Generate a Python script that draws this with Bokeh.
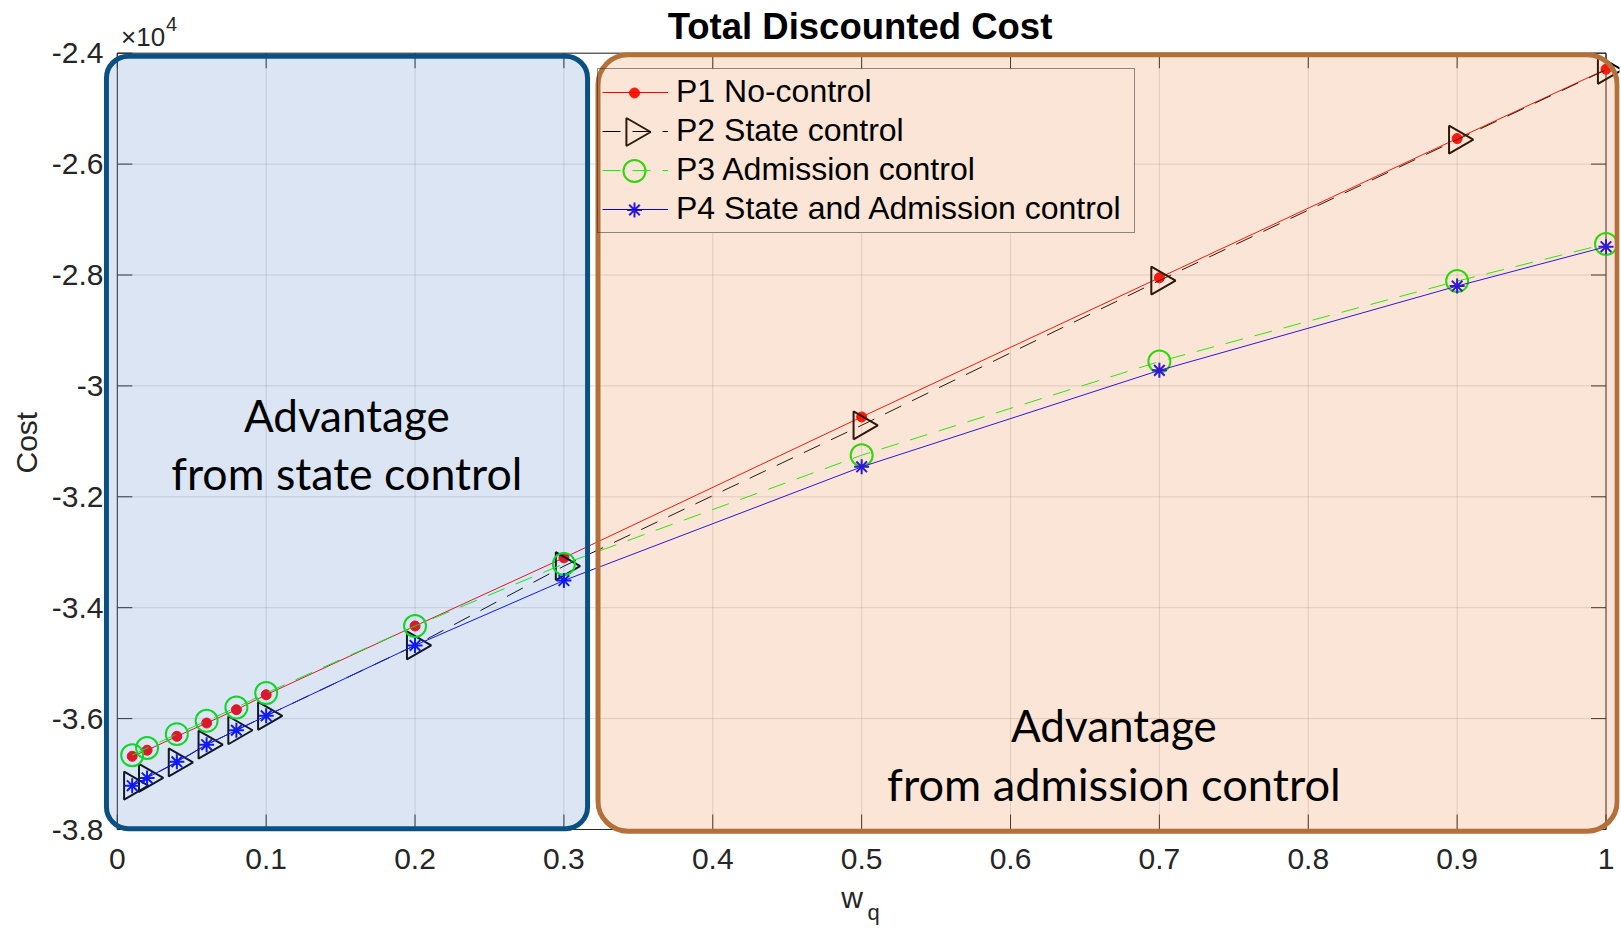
import numpy as np
from bokeh.plotting import figure
from bokeh.models import (Range1d, LinearAxis, FixedTicker, CustomJSTickFormatter,
                          BoxAnnotation, Label, Legend, LegendItem, ColumnDataSource, Title)
from bokeh.embed import file_html
from bokeh.resources import INLINE

# ---------------- data ----------------
wq = [0.01, 0.02, 0.04, 0.06, 0.08, 0.1, 0.2, 0.3, 0.5, 0.7, 0.9, 1.0]
p1_no_control = [-36680, -36570, -36320, -36080, -35840, -35570, -34330, -33100, -30560, -28050, -25540, -24290]
p2_state_control = [-37210, -37070, -36790, -36470, -36210, -35950, -34680, -33250, -30710, -28100, -25560, -24300]
p3_admission_control = [-36660, -36530, -36280, -36040, -35800, -35540, -34330, -33210, -31250, -29560, -28110, -27440]
p4_state_admission = [-37210, -37070, -36780, -36470, -36210, -35950, -34680, -33510, -31460, -29720, -28200, -27490]

series_labels = ["P1 No-control", "P2 State control", "P3 Admission control",
                 "P4 State and Admission control"]
x_ticks = [0.0, 0.1, 0.2, 0.3, 0.4, 0.5, 0.6, 0.7, 0.8, 0.9, 1.0]
y_ticks = [-38000, -36000, -34000, -32000, -30000, -28000, -26000, -24000]
x_limits = [0.0, 1.0]
y_limits = [-38000, -24000]
x_label_main, x_label_sub = "w", "q"

# highlighted regions (data coordinates)
state_box = dict(left=-0.0073, right=0.3159, top=-24054, bottom=-37985)
adm_box = dict(left=0.3229, right=1.0075, top=-24029, bottom=-38030)

# ---------------- geometry (pixels) ----------------
W, H = 1621, 928
X0_PX, X1_PX = 116.8, 1605.5          # where x=0 and x=1 sit
YT_PX, YB_PX = 52.7, 829.0            # where y=-24000 and y=-38000 sit
FL, FR, FT, FB = 103, W - 2, 0, 834   # plot frame edges
PX_X = (X1_PX - X0_PX) / (x_limits[1] - x_limits[0])
PX_Y = (YB_PX - YT_PX) / (y_limits[1] - y_limits[0])

def xd(px):
    return x_limits[0] + (px - X0_PX) / PX_X

def yd(py):
    return y_limits[1] - (py - YT_PX) / PX_Y

AX = "#262626"
FONT = "Liberation Sans"

p = figure(width=W, height=H, output_backend="svg", toolbar_location=None,
           x_range=Range1d(xd(FL), xd(FR)), y_range=Range1d(yd(FB), yd(FT)),
           min_border_left=FL, min_border_right=W - FR, min_border_top=FT,
           min_border_bottom=H - FB)
p.outline_line_color = None
p.background_fill_color = "white"
p.border_fill_color = "white"
p.xgrid.visible = False
p.ygrid.visible = False

xfmt = CustomJSTickFormatter(code="return (Math.round(tick*10)/10).toString();")
yfmt = CustomJSTickFormatter(code="return (Math.round(tick/1000)/10).toString();")

def label_axis(ax, fmt, ticks, standoff, size="30px"):
    ax.ticker = FixedTicker(ticks=ticks)
    ax.formatter = fmt
    ax.minor_tick_line_color = None
    ax.minor_tick_in = 0
    ax.minor_tick_out = 0
    ax.major_tick_line_color = None
    ax.major_tick_in = 0
    ax.major_tick_out = 0
    ax.axis_line_color = None
    ax.major_label_text_font = FONT
    ax.major_label_text_font_size = size
    ax.major_label_text_color = AX
    ax.major_label_standoff = standoff

xa = p.xaxis[0]
label_axis(xa, xfmt, x_ticks, 14)

# x label "w" with subscript "q", stacked under the tick labels
w_axis = LinearAxis()
label_axis(w_axis, CustomJSTickFormatter(code="return '%s';" % x_label_main),
           [xd(851.7)], 9, "30px")
p.add_layout(w_axis, "below")
q_axis = LinearAxis()
label_axis(q_axis, CustomJSTickFormatter(code="return '%s';" % x_label_sub),
           [xd(873)], -17, "22px")
p.add_layout(q_axis, "below")

ya = p.yaxis[0]
label_axis(ya, yfmt, y_ticks, 0)

p.add_layout(Title(text="Cost", text_font=FONT, text_font_size="30px",
                   text_font_style="normal", text_color=AX, align="left",
                   offset=FB - 473, standoff=12), "left")

# ---------------- grid, frame and ticks ----------------
TICK = 15
nx, ny = len(x_ticks), len(y_ticks)
p.segment(x0=x_ticks, x1=x_ticks, y0=[y_limits[0]] * nx, y1=[y_limits[1]] * nx,
          line_color=AX, line_alpha=0.15, line_width=1)
p.segment(x0=[x_limits[0]] * ny, x1=[x_limits[1]] * ny, y0=y_ticks, y1=y_ticks,
          line_color=AX, line_alpha=0.15, line_width=1)

# legend geometry (pixels) and opaque legend background under the sample markers
LEG_L, LEG_B, PAD, GH, SP, GW, STAND, LW = 597, 232.5, 4, 38, 1, 66, 8, 454
leg_top = LEG_B - 2 * PAD - 4 * GH - 3 * SP
leg_right = LEG_L + 2 * PAD + GW + STAND + LW
p.quad(left=[xd(LEG_L)], right=[xd(leg_right)], bottom=[yd(LEG_B)], top=[yd(leg_top)],
       fill_color="white", line_color=None)

tx = TICK / PX_X
ty = TICK / PX_Y
p.segment(x0=x_ticks, x1=x_ticks, y0=[y_limits[0]] * nx, y1=[y_limits[0] + ty] * nx,
          line_color=AX, line_width=1)
p.segment(x0=x_ticks, x1=x_ticks, y0=[y_limits[1]] * nx, y1=[y_limits[1] - ty] * nx,
          line_color=AX, line_width=1)
p.segment(x0=[x_limits[0]] * ny, x1=[x_limits[0] + tx] * ny, y0=y_ticks, y1=y_ticks,
          line_color=AX, line_width=1)
p.segment(x0=[x_limits[1]] * ny, x1=[x_limits[1] - tx] * ny, y0=y_ticks, y1=y_ticks,
          line_color=AX, line_width=1)
p.quad(left=[x_limits[0]], right=[x_limits[1]], bottom=[y_limits[0]], top=[y_limits[1]],
       fill_color=None, line_color=AX, line_width=1)

# ---------------- series ----------------
src = ColumnDataSource(dict(x=wq, p1=p1_no_control, p2=p2_state_control,
                            p3=p3_admission_control, p4=p4_state_admission))

l1 = p.line("x", "p1", source=src, line_color="#ff0000", line_width=1)
p.scatter("x", "p1", source=src, marker="circle", size=10,
          fill_color="#ff0000", line_color="#ff0000")
l2 = p.line("x", "p2", source=src, line_color="black", line_width=1, line_dash="18 12")
p.scatter("x", "p2", source=src, marker="triangle", size=28, angle=-np.pi / 2,
          fill_color=None, line_color="black", line_width=2)
l3 = p.line("x", "p3", source=src, line_color="#00ff00", line_width=1, line_dash="18 12")
p.scatter("x", "p3", source=src, marker="circle", size=22,
          fill_color=None, line_color="#00ee00", line_width=2)
l4 = p.line("x", "p4", source=src, line_color="#0000ff", line_width=1)
p.scatter("x", "p4", source=src, marker="asterisk", size=15,
          line_color="#0000ff", line_width=2)

# legend sample markers (at the legend glyph centres)
mx = xd(LEG_L + PAD + GW / 2)
my = [yd(leg_top + PAD + GH / 2 + i * (GH + SP)) for i in range(4)]
p.scatter([mx], [my[0]], marker="circle", size=10, fill_color="#ff0000",
          line_color="#ff0000")
p.scatter([mx], [my[1]], marker="triangle", size=28, angle=-np.pi / 2, fill_color=None,
          line_color="black", line_width=2)
p.scatter([mx], [my[2]], marker="circle", size=22, fill_color=None,
          line_color="#00ee00", line_width=2)
p.scatter([mx], [my[3]], marker="asterisk", size=15, line_color="#0000ff",
          line_width=2)

# ---------------- legend ----------------
legend = Legend(items=[LegendItem(label=series_labels[0], renderers=[l1]),
                       LegendItem(label=series_labels[1], renderers=[l2]),
                       LegendItem(label=series_labels[2], renderers=[l3]),
                       LegendItem(label=series_labels[3], renderers=[l4])],
                location=(LEG_L - FL, FB - LEG_B), orientation="vertical",
                glyph_width=GW, glyph_height=GH, label_height=GH, label_width=LW,
                spacing=SP, label_standoff=STAND, padding=PAD, margin=0,
                label_text_font=FONT, label_text_font_size="32px", label_text_color="black",
                border_line_color=AX, border_line_width=1,
                background_fill_alpha=0.0)
p.add_layout(legend, "center")

# ---------------- translucent regions ----------------
p.add_layout(BoxAnnotation(**state_box, fill_color="#4a7dc8", fill_alpha=0.2,
                           line_color="#0a5083", line_width=5, line_alpha=1.0,
                           border_radius=22, level="overlay"))
p.add_layout(BoxAnnotation(**adm_box, fill_color="#ED7D31", fill_alpha=0.2,
                           line_color="#b5703a", line_width=5, line_alpha=1.0,
                           border_radius=30, level="overlay"))

def lab(text, x, y, size, font="Lato", style="normal", align="center", color="black"):
    p.add_layout(Label(x=x, y=y, text=text, text_font=font, text_font_size=size,
                       text_font_style=style, text_align=align, text_baseline="middle",
                       text_color=color, level="overlay"))

lab("Advantage", xd(346.3), yd(414.6), "44px")
lab("from state control", xd(346.3), yd(472.5), "44.7px")
lab("Advantage", xd(1113.4), yd(724.8), "44px")
lab("from admission control", xd(1113.4), yd(782.7), "45.2px")

lab("Total Discounted Cost", xd(859.5), yd(26), "36.5px", font=FONT, style="bold")
lab("\u00d710", xd(120.6), yd(36.2), "26px", font=FONT, align="left", color=AX)
lab("4", xd(165.5), yd(23), "20px", font=FONT, align="left", color=AX)

open("out.html", "w").write(file_html(p, INLINE))
